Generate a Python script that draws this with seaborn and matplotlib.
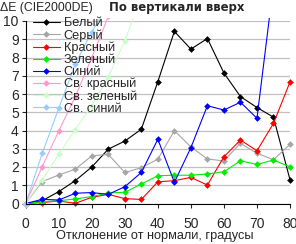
import matplotlib
matplotlib.use("Agg")
import matplotlib.pyplot as plt
import matplotlib.patches as mpatches
import pandas as pd
import seaborn as sns

# =============================================================================
# data (dE vs deviation angle, "upwards" direction)
# =============================================================================
angles = [0, 5, 10, 15, 20, 25, 30, 35, 40, 45, 50, 55, 60, 65, 70, 75, 80]

white = [0, 0.15, 0.65, 1.25, 2.0, 2.98, 3.42, 4.07, 6.68, 9.43, 8.46, 9.04, 7.15, 5.86, 5.26, 4.73, 1.3]
gray = [0, 1.2, 1.56, 1.88, 2.61, 2.69, 1.7, 1.96, 2.43, 3.99, 3.1, 2.44, 2.33, 3.3, 2.75, 2.4, 3.24]
red = [0, 0.05, 0.14, 0.01, 0.34, 0.5, 0.27, 0.22, 1.19, 1.25, 1.43, 1.01, 2.56, 3.48, 2.89, 4.39, 6.66]
green = [0, 0.1, 0.15, 0.25, 0.38, 0.58, 0.61, 1.07, 1.52, 1.55, 1.55, 1.62, 1.74, 2.34, 2.14, 2.38, 2.01]
blue = [0, 0.23, 0.19, 0.56, 0.6, 0.5, 0.92, 1.7, 3.52, 1.16, 3.06, 5.36, 5.12, 5.55, 4.67, 12.0, 14.0]
light_red = [0, 2.02, 3.97, 5.85, 7.99, 10.25, 12.0, 13.5, 14.8, 15.9, 16.8, 17.5, 18.1, 18.6, 19.0, 19.3, 19.5]
light_green = [0, 1.3, 2.69, 4.05, 5.34, 6.95, 8.9, 11.4, 13.2, 14.6, 15.7, 16.5, 17.2, 17.7, 18.1, 18.4, 18.6]
light_blue = [0, 2.74, 5.22, 7.64, 9.41, 10.86, 12.4, 13.7, 14.8, 15.7, 16.4, 17.0, 17.5, 17.9, 18.2, 18.4, 18.6]

series_names = ["Белый", "Серый", "Красный", "Зеленый", "Синий",
                "Св. красный", "Св. зеленый", "Св. синий"]
series_colors = ["#000000", "#a6a6a6", "#ff0000", "#00ee00", "#0000ff",
                 "#ff99cc", "#c8ffc8", "#99ccff"]
series_values = [white, gray, red, green, blue, light_red, light_green, light_blue]

frames = []
for name, vals in zip(series_names, series_values):
    frames.append(pd.DataFrame({"angle": angles, "dE": vals, "series": name}))
df = pd.concat(frames, ignore_index=True)

# =============================================================================
# plotting
# =============================================================================
sns.set_style("white")
plt.rcParams['font.family'] = ['Liberation Sans', 'DejaVu Sans']

W, H = 296, 244
fig = plt.figure(figsize=(W / 100, H / 100), dpi=100)
ax = fig.add_axes([25.7 / W, 40.5 / H, (290 - 25.7) / W, (203.5 - 21) / H])

sns.lineplot(data=df, x="angle", y="dE", hue="series", style="series",
             hue_order=series_names, style_order=series_names,
             palette=series_colors, markers=["D"] * 8, dashes=False,
             linewidth=0.8, markersize=3.4, markeredgewidth=0,
             errorbar=None, sort=False, ax=ax)

ax.set_xlim(0, 80)
ax.set_ylim(0, 10)
ax.set_xticks(range(0, 81, 10))
ax.set_yticks(range(0, 11))
ax.set_xlabel('')
ax.set_ylabel('')

ax.yaxis.grid(True, color='#c0c0c0', linewidth=0.9)
ax.xaxis.grid(False)
ax.set_axisbelow(True)
for side in ['top', 'right']:
    ax.spines[side].set_visible(False)
for side in ['left', 'bottom']:
    ax.spines[side].set_color('black')
    ax.spines[side].set_linewidth(0.8)

ax.tick_params(axis='y', direction='out', length=3, width=0.8, pad=2, labelsize=10, left=True)
ax.tick_params(axis='x', direction='out', length=3, width=0.8, pad=7, labelsize=10, bottom=True)

# let markers at the edges show fully, but still cut lines at the top
clip = mpatches.Rectangle((-0.03, -0.03), 1.06, 1.046, transform=ax.transAxes)
for ln in ax.lines:
    ln.set_clip_path(clip)

handles, labels = ax.get_legend_handles_labels()
ax.legend(handles, labels, loc='upper left', bbox_to_anchor=(33 / W, 1 - 17 / H),
          bbox_transform=fig.transFigure, frameon=False, fontsize=9.2,
          handlelength=2.1, handletextpad=0.3, labelspacing=0.0,
          borderaxespad=0, borderpad=0)

fig.text(0, 1 - 8 / H, 'ΔE (CIE2000DE)', ha='left', va='center', fontsize=8.8)
fig.text(177 / W, 1 - 8 / H, 'По вертикали вверх', ha='center', va='center',
         fontsize=8.4, fontweight='bold', family=['DejaVu Sans'])
fig.text(155 / W, 7.5 / H, 'Отклонение от нормали, градусы', ha='center', va='center',
         fontsize=9.2)

fig.savefig('out.png', dpi=100)
